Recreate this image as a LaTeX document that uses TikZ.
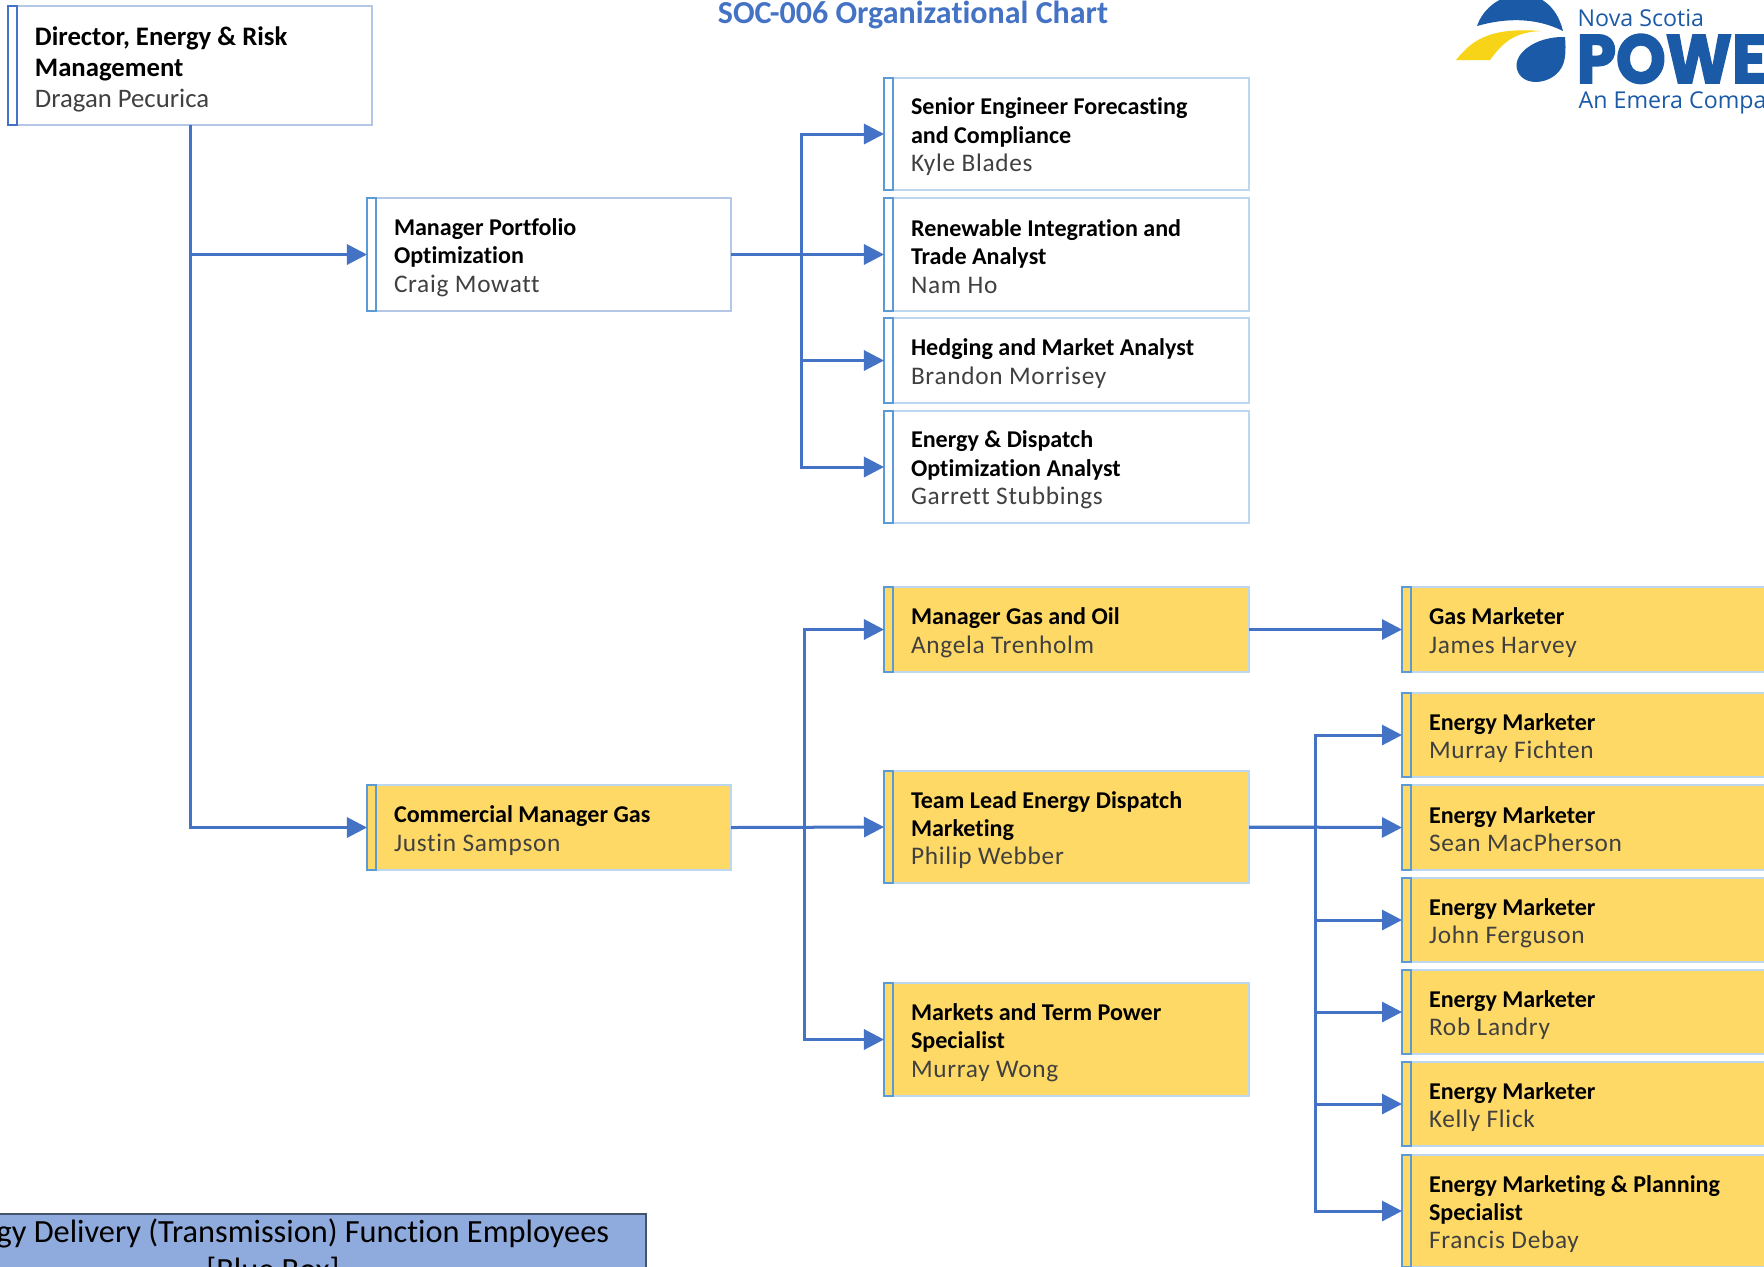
\documentclass[tikz,border=0pt]{standalone}
\usepackage{fontspec}
\setmainfont{Carlito}[Ligatures=NoCommon]
\newfontfamily\namefont{Carlito}[LetterSpace=2.8,Ligatures=NoCommon]
\newfontfamily\logofont{Open Sans}
\newfontfamily\logoheavy[FakeBold=2.5,FakeStretch=0.92]{Poppins}
\usetikzlibrary{arrows.meta}
\definecolor{conn}{HTML}{4472C4}
\definecolor{stripblue}{HTML}{5B9BD5}
\definecolor{edgeA}{HTML}{B4C7E7}
\definecolor{edgeB}{HTML}{BDD7EE}
\definecolor{gold}{HTML}{FFD966}
\definecolor{namegrey}{HTML}{404040}
\definecolor{logoblue}{HTML}{1B5AA6}
\definecolor{logoyellow}{HTML}{F7D417}
\definecolor{legendfill}{HTML}{8FAADC}
\definecolor{legendedge}{HTML}{44546A}
\tikzset{
  x=0.01cm,y=-0.01cm,
  orgbox/.style={draw=edgeB,line width=0.02cm,inner sep=0pt,outer sep=0pt},
  plainbox/.style={orgbox,fill=white},
  plainboxA/.style={orgbox,draw=edgeA,fill=white},
  goldbox/.style={orgbox,fill=gold},
  strip/.style={draw=stripblue,line width=0.02cm},
  link/.style={draw=conn,line width=0.03cm,-{Triangle[length=0.2cm,width=0.2cm]}},
  bus/.style={draw=conn,line width=0.03cm},
}
\newcommand{\orgS}{\rule[-0.03cm]{0pt}{0.26cm}}
\newcommand{\orgT}[1]{\orgS{\bfseries\color{black}#1}}
\newcommand{\orgN}[1]{\orgS{\fontsize{7.2}{8.1}\selectfont\namefont\color{namegrey}#1}}
\newcommand{\orgbox}[7]{%
  \pgfmathsetmacro{\cxx}{(#2+#4)/2}%
  \pgfmathsetmacro{\cyy}{(#3+#5)/2}%
  \pgfmathsetlengthmacro{\wdd}{(#4-#2)*0.01cm}%
  \pgfmathsetlengthmacro{\htt}{(#5-#3)*0.01cm}%
  \pgfmathsetlengthmacro{\pww}{(#4-#2-27)*0.01cm}%
  \node[#6,minimum width=\wdd,minimum height=\htt] (#1) at (\cxx,\cyy)
    {\hspace*{0.27cm}\parbox[c]{\pww}{\raggedright\fontsize{6.85}{8.1}\selectfont #7}};
  \draw[strip] (#1.north west) rectangle ([xshift=0.09cm]#1.south west);
}
\begin{document}
\begin{tikzpicture}
\clip (0,0) rectangle (1764,1266);
\fill[white] (0,0) rectangle (1764,1266);

% title
\node[font=\fontsize{9.1}{10}\selectfont\bfseries,text=conn,inner sep=0pt] (title) at (913,15) {SOC-006 Organizational Chart};

% logo
\fill[logoblue] (1477,26) .. controls (1490,-12) and (1550,-22) .. (1563,31)
  .. controls (1535,17) and (1505,18) .. cycle;
\fill[logoyellow] (1456,60) .. controls (1472,40) and (1490,27) .. (1541,31)
  .. controls (1515,32) and (1503,42) .. (1490,60) -- cycle;
\fill[logoblue] (1565,37) .. controls (1566,50) and (1566,62) .. (1560,70)
  .. controls (1550,84) and (1525,87) .. (1518,72)
  .. controls (1510,55) and (1535,36) .. cycle;
\node[anchor=base west,inner sep=0pt,text=logoblue,font=\fontsize{6.6}{8}\selectfont\logofont] (logoa) at (1577,26) {Nova Scotia};
\node[anchor=base west,inner sep=0pt,text=logoblue,font=\fontsize{19.5}{20}\selectfont\logoheavy\bfseries] (logob) at (1576,83) {POWER};
\node[anchor=base west,inner sep=0pt,text=logoblue,font=\fontsize{6.6}{8}\selectfont\logofont] (logoc) at (1578,108) {An Emera Company};

% boxes
\node[plainboxA,minimum width=3.64cm,minimum height=1.19cm] (dir) at (190,65.5)
  {\hspace*{0.27cm}\parbox[c]{3.37cm}{\vspace*{0.04cm}\raggedright\fontsize{7.6}{8.8}\selectfont\orgT{Director, Energy \& Risk}\\\orgT{Management}\\\orgS{\color{namegrey}Dragan Pecurica}}};
\draw[strip,draw=conn] (dir.north west) rectangle ([xshift=0.09cm]dir.south west);

\orgbox{mp}{367}{198}{731}{311}{plainboxA}{\orgT{Manager Portfolio}\\\orgT{Optimization}\\\orgN{Craig Mowatt}}
\orgbox{cm}{367}{785}{731}{870}{goldbox}{\orgT{Commercial Manager Gas}\\\orgN{Justin Sampson}}

\orgbox{se}{884}{78}{1249}{190}{plainbox}{\orgT{Senior Engineer Forecasting}\\\orgT{and Compliance}\\\orgN{Kyle Blades}}
\orgbox{ri}{884}{198}{1249}{311}{plainbox}{\orgT{Renewable Integration and}\\\orgT{Trade Analyst}\\\orgN{Nam Ho}}
\orgbox{hm}{884}{318}{1249}{403}{plainbox}{\orgT{Hedging and Market Analyst}\\\orgN{Brandon Morrisey}}
\orgbox{ed}{884}{411}{1249}{523}{plainbox}{\orgT{Energy \& Dispatch}\\\orgT{Optimization Analyst}\\\orgN{Garrett Stubbings}}

\orgbox{mg}{884}{587}{1249}{672}{goldbox}{\orgT{Manager Gas and Oil}\\\orgN{Angela Trenholm}}
\orgbox{tl}{884}{771}{1249}{883}{goldbox}{\orgT{Team Lead Energy Dispatch}\\\orgT{Marketing}\\\orgN{Philip Webber}}
\orgbox{mt}{884}{983}{1249}{1096}{goldbox}{\orgT{Markets and Term Power}\\\orgT{Specialist}\\\orgN{Murray Wong}}

\orgbox{gm}{1402}{587}{1800}{672}{goldbox}{\orgT{Gas Marketer}\\\orgN{James Harvey}}
\orgbox{e1}{1402}{693}{1800}{777}{goldbox}{\orgT{Energy Marketer}\\\orgN{Murray Fichten}}
\orgbox{e2}{1402}{785}{1800}{870}{goldbox}{\orgT{Energy Marketer}\\\orgN{Sean MacPherson}}
\orgbox{e3}{1402}{878}{1800}{962}{goldbox}{\orgT{Energy Marketer}\\\orgN{John Ferguson}}
\orgbox{e4}{1402}{970}{1800}{1054}{goldbox}{\orgT{Energy Marketer}\\\orgN{Rob Landry}}
\orgbox{e5}{1402}{1062}{1800}{1146}{goldbox}{\orgT{Energy Marketer}\\\orgN{Kelly Flick}}
\orgbox{e6}{1402}{1155}{1800}{1267}{goldbox}{\orgT{Energy Marketing \& Planning}\\\orgT{Specialist}\\\orgN{Francis Debay}}

% legend
\node[draw=legendedge,line width=0.015cm,fill=legendfill,anchor=north,minimum width=7.46cm,inner xsep=0pt,inner ysep=0.05cm,align=center,text=black,font=\fontsize{9.2}{10.8}\selectfont] (legend) at (273,1213)
  {Energy Delivery (Transmission) Function Employees\\{}[Blue Box]};

% bus positions
\coordinate (busA) at (801,0);
\coordinate (busB) at (804,0);
\coordinate (busC) at (1315,0);

% connectors
\draw[link] (dir.south) |- (mp.west);
\draw[link] (dir.south) |- (cm.west);

\draw[bus] (mp.east) -- (busA |- mp.east);
\draw[link] (busA |- mp.east) |- (se.west);
\draw[link] (mp.east) -- (ri.west);
\draw[link] (busA |- mp.east) |- (hm.west);
\draw[link] (busA |- mp.east) |- (ed.west);

\draw[bus] (cm.east) -- (busB |- cm.east);
\draw[link] (busB |- cm.east) |- (mg.west);
\draw[link] (cm.east) -- (tl.west);
\draw[link] (busB |- cm.east) |- (mt.west);

\draw[link] (mg.east) -- (gm.west);

\draw[bus] (tl.east) -- (busC |- tl.east);
\draw[link] (busC |- tl.east) |- (e1.west);
\draw[link] (tl.east) -- (e2.west);
\draw[link] (busC |- tl.east) |- (e3.west);
\draw[link] (busC |- tl.east) |- (e4.west);
\draw[link] (busC |- tl.east) |- (e5.west);
\draw[link] (busC |- tl.east) |- (e6.west);
\end{tikzpicture}
\end{document}
